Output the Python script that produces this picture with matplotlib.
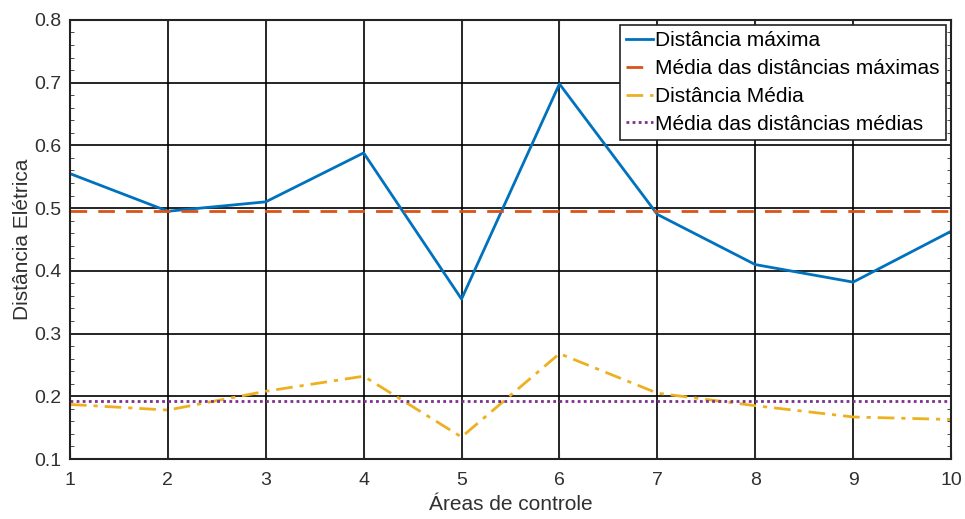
import numpy as np
import matplotlib
matplotlib.use("Agg")
import matplotlib.pyplot as plt
from matplotlib.ticker import MultipleLocator

plt.rcParams['font.family'] = ['Liberation Sans', 'DejaVu Sans']

areas = [1, 2, 3, 4, 5, 6, 7, 8, 9, 10]
dist_max = [0.555, 0.495, 0.510, 0.588, 0.355, 0.698, 0.490, 0.410, 0.382, 0.463]
dist_media = [0.187, 0.178, 0.208, 0.232, 0.135, 0.268, 0.205, 0.185, 0.167, 0.163]

media_max = np.mean(dist_max)
media_media = np.mean(dist_media)

text_color = '#303030'

fig = plt.figure(figsize=(9.65, 5.19), dpi=100)
ax = fig.add_axes([0.0725, 0.1156, 0.9130, 0.8460])

ax.plot(areas, dist_max, color='#0072BD', lw=2, label='Distância máxima')
ax.plot(areas, [media_max] * len(areas), color='#D95319', lw=2, ls=(0, (6, 4)),
        label='Média das distâncias máximas')
ax.plot(areas, dist_media, color='#EDB120', lw=2, ls=(0, (6, 2.5, 1.5, 2.5)),
        label='Distância Média')
ax.plot(areas, [media_media] * len(areas), color='#7E2F8E', lw=2, ls=(0, (1, 1.2)),
        label='Média das distâncias médias')

ax.set_xlim(1, 10)
ax.set_ylim(0.1, 0.8)
ax.set_xticks(areas)
ax.yaxis.set_major_locator(MultipleLocator(0.1))
ax.yaxis.set_minor_locator(MultipleLocator(0.02))
ax.tick_params(axis='both', which='both', direction='in', top=True, right=True,
               labelsize=14, colors=text_color)
ax.tick_params(axis='y', which='minor', length=3)
ax.tick_params(axis='x', which='major', length=5, pad=9)
ax.tick_params(axis='y', which='major', length=0, pad=6)
ax.grid(True, which='major', color='black', lw=1.2)
ax.set_axisbelow(True)
for s in ax.spines.values():
    s.set_linewidth(1.5)
    s.set_color('#222222')

ax.set_xlabel('Áreas de controle', fontsize=15, color=text_color, labelpad=5)
ax.set_ylabel('Distância Elétrica', fontsize=15, color=text_color, labelpad=2)

leg = ax.legend(loc='upper right', fontsize=15, handlelength=1.3, handletextpad=0.1,
                borderpad=0.3, labelspacing=0.42, fancybox=False, framealpha=1,
                edgecolor='#222222', borderaxespad=0.25)
leg.get_frame().set_linewidth(1.2)
for t in leg.get_texts():
    t.set_color('black')

plt.savefig('out.png', dpi=100)
